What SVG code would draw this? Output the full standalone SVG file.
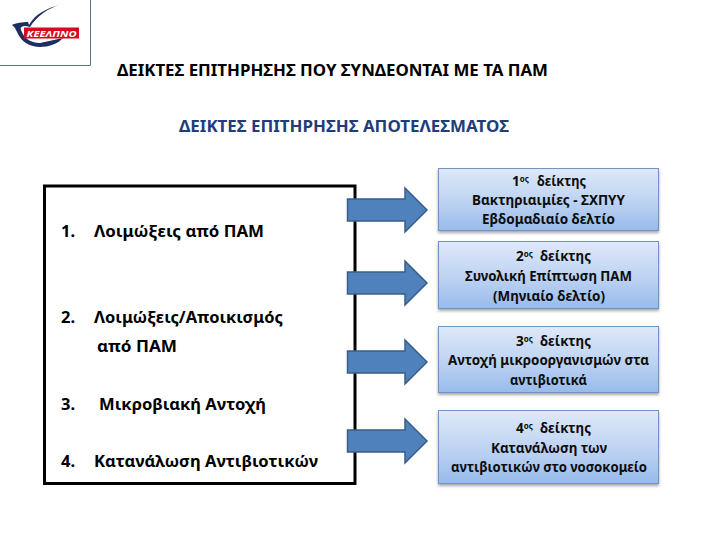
<svg xmlns="http://www.w3.org/2000/svg" width="720" height="540" viewBox="0 0 720 540">
<defs>
<linearGradient id="boxFill" x1="0" y1="0" x2="0" y2="1"><stop offset="0" stop-color="#dfe9f9"/><stop offset="0.55" stop-color="#bcd2f2"/><stop offset="1" stop-color="#97bbec"/></linearGradient>
<filter id="shadow" x="-5%" y="-10%" width="110%" height="125%"><feDropShadow dx="0" dy="2" stdDeviation="1.500" flood-color="#000" flood-opacity="0.35"/></filter>
<path id="arrow" d="M347.500 -11H405V-22L427 0L405 22V11H347.500Z" fill="#4f81bd" stroke="#385d8a" stroke-width="1.500"/>
</defs>
<style>
text{font-family:"Noto Sans","Liberation Sans",Arial,sans-serif;font-weight:bold;fill:#000}
.t{font-size:13.500px;fill:#0d0d0d}
.m{text-anchor:middle}
.s{font-size:8px}
.l{font-size:16.500px}
.b{fill:url(#boxFill);stroke:#6f94c4;stroke-width:1;filter:url(#shadow)}
</style>
<rect width="720" height="540" fill="#fff"/>
<g id="logo">
<path d="M0 65.500H90.500V0" fill="none" stroke="#5d7186" stroke-width="1"/>
<path d="M61 4C46 9 35 14 29 25L28 22C23 22 15 23 12 25C15 27 16 30 18 34C22 42 30 47 40 47C48 47 58 44 63 38L40 43C30 43 24 38 21 30C20 27 22 26 26 26L30 27C37 16 47 9 61 4Z" fill="#1b2f63"/>
<rect x="24" y="27.500" width="55" height="11" fill="#d8091c"/>
<text x="51.500" y="36.500" text-anchor="middle" font-size="9.500" font-style="italic" textLength="50" lengthAdjust="spacingAndGlyphs" style="fill:#fff">ΚΕΕΛΠΝΟ</text>
</g>
<g id="titles">
<text x="332.500" y="76" text-anchor="middle" font-size="15.500" textLength="431" lengthAdjust="spacingAndGlyphs">ΔΕΙΚΤΕΣ ΕΠΙΤΗΡΗΣΗΣ ΠΟΥ ΣΥΝΔΕΟΝΤΑΙ ΜΕ ΤΑ ΠΑΜ</text>
<text x="344" y="132" text-anchor="middle" font-size="15.500" textLength="330" lengthAdjust="spacingAndGlyphs" style="fill:#1f3d7a">ΔΕΙΚΤΕΣ ΕΠΙΤΗΡΗΣΗΣ ΑΠΟΤΕΛΕΣΜΑΤΟΣ</text>
</g>
<g id="main-box">
<rect x="44.500" y="186" width="310.500" height="297.500" fill="#fff" stroke="#000" stroke-width="3"/>
<text class="l" x="61" y="237">1.</text><text class="l" x="94" y="237" textLength="170" lengthAdjust="spacingAndGlyphs">Λοιμώξεις από ΠΑΜ</text>
<text class="l" x="61" y="323">2.</text><text class="l" x="94" y="323" textLength="189" lengthAdjust="spacingAndGlyphs">Λοιμώξεις/Αποικισμός</text>
<text class="l" x="97" y="352" textLength="80" lengthAdjust="spacingAndGlyphs">από ΠΑΜ</text>
<text class="l" x="61" y="410">3.</text><text class="l" x="99" y="410" textLength="167" lengthAdjust="spacingAndGlyphs">Μικροβιακή Αντοχή</text>
<text class="l" x="61" y="467">4.</text><text class="l" x="94" y="467" textLength="224" lengthAdjust="spacingAndGlyphs">Κατανάλωση Αντιβιοτικών</text>
</g>
<g id="connectors">
<use href="#arrow" y="210"/>
<use href="#arrow" y="283"/>
<use href="#arrow" y="362"/>
<use href="#arrow" y="441"/>
</g>
<g id="node1">
<rect class="b" x="438.500" y="168.500" width="220" height="62"/>
<text class="t" x="512" y="186">1<tspan class="s" dy="-4">ος</tspan></text>
<text class="t" x="537" y="186" textLength="49" lengthAdjust="spacingAndGlyphs">δείκτης</text>
<text class="t m" x="548.500" y="205" textLength="153" lengthAdjust="spacingAndGlyphs">Βακτηριαιμίες  - ΣΧΠΥΥ</text>
<text class="t m" x="548.500" y="224" textLength="133" lengthAdjust="spacingAndGlyphs">Εβδομαδιαίο δελτίο</text>
</g>
<g id="node2">
<rect class="b" x="438.500" y="241.500" width="220" height="67"/>
<text class="t" x="516" y="261">2<tspan class="s" dy="-4">ος</tspan></text>
<text class="t" x="540" y="261" textLength="51" lengthAdjust="spacingAndGlyphs">δείκτης</text>
<text class="t m" x="548.500" y="281" textLength="167" lengthAdjust="spacingAndGlyphs">Συνολική Επίπτωση ΠΑΜ</text>
<text class="t m" x="549" y="301" textLength="112" lengthAdjust="spacingAndGlyphs">(Μηνιαίο δελτίο)</text>
</g>
<g id="node3">
<rect class="b" x="438.500" y="326.500" width="220" height="66"/>
<text class="t" x="516" y="346">3<tspan class="s" dy="-4">ος</tspan></text>
<text class="t" x="540" y="346" textLength="51" lengthAdjust="spacingAndGlyphs">δείκτης</text>
<text class="t m" x="548.500" y="365" textLength="201" lengthAdjust="spacingAndGlyphs">Αντοχή μικροοργανισμών στα</text>
<text class="t m" x="548.500" y="385" textLength="77" lengthAdjust="spacingAndGlyphs">αντιβιοτικά</text>
</g>
<g id="node4">
<rect class="b" x="438.500" y="410.500" width="220" height="73"/>
<text class="t" x="516" y="433">4<tspan class="s" dy="-4">ος</tspan></text>
<text class="t" x="540" y="433" textLength="51" lengthAdjust="spacingAndGlyphs">δείκτης</text>
<text class="t m" x="549" y="453" textLength="116" lengthAdjust="spacingAndGlyphs">Κατανάλωση των</text>
<text class="t m" x="549" y="472" textLength="196" lengthAdjust="spacingAndGlyphs">αντιβιοτικών στο νοσοκομείο</text>
</g>
</svg>
